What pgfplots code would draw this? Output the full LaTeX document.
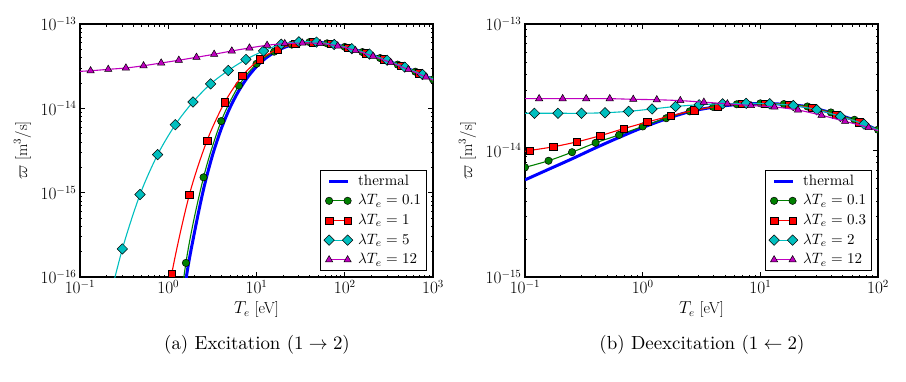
\documentclass[border=0pt]{standalone}
\usepackage{pgfplots}
\pgfplotsset{compat=1.18}

\definecolor{mgreen}{rgb}{0,0.5,0}
\definecolor{mred}{rgb}{1,0,0}
\definecolor{mcyan}{rgb}{0,0.75,0.75}
\definecolor{mmag}{rgb}{0.75,0,0.75}
\definecolor{mblue}{rgb}{0,0,1}

\newcommand{\tickfont}{\fontsize{16}{18}\selectfont}

\pgfplotsset{
  panel/.style={
    scale only axis, width=353pt, height=253pt,
    axis line style={line width=1.1pt},
    major tick length=5pt, minor tick length=2.5pt,
    every tick/.style={black, line width=0.7pt},
    tick label style={font=\tickfont},
    xlabel={$T_e$ [eV]},
    ylabel={$\varpi$ [m$^3$/s]},
    every axis x label/.style={at={(axis description cs:0.5,-0.13)}, anchor=center, font=\tickfont},
    every axis y label/.style={at={(axis description cs:-0.163,0.5)}, rotate=90, anchor=center, font=\tickfont},
    clip marker paths=true,
    legend cell align=left,
    legend style={at={(axis description cs:0.983,0.024)}, anchor=south east,
      draw=black, line width=1.1pt, inner xsep=3pt, inner ysep=2pt,
      nodes={inner sep=1.5pt, scale=1.5, transform shape=false}, row sep=2.5pt,
      /tikz/every odd column/.append style={column sep=3pt}},
    legend image code/.code={\draw[#1] plot coordinates {(0pt,0pt) (18.5pt,0pt)};},
  },
}

\begin{document}
\begin{tikzpicture}
\path[use as bounding box] (0,0) rectangle (906pt,382pt);

% (a) excitation
\begin{loglogaxis}[panel, at={(80pt,105pt)}, anchor=south west,
  xmin=0.1, xmax=1000, ymin=1e-16, ymax=1e-13,
  xtick={0.1,1,10,100,1000}, ytick={1e-16,1e-15,1e-14,1e-13}]
\addplot[mblue, line width=3pt, smooth] table {
x y
1.2589 1e-17
1.5849 9.1e-17
1.9953 3.5e-16
2.5119 1.1e-15
3.1623 2.75e-15
3.9811 5.7e-15
5.0119 1.02e-14
6.3096 1.62e-14
7.9433 2.34e-14
10 3.13e-14
12.589 3.9e-14
15.849 4.6e-14
19.953 5.2e-14
25.119 5.65e-14
31.623 5.98e-14
39.811 6.10e-14
50.119 6.06e-14
63.096 5.90e-14
79.433 5.65e-14
100 5.35e-14
125.89 5.00e-14
158.49 4.65e-14
199.53 4.30e-14
251.19 3.95e-14
316.23 3.62e-14
398.11 3.30e-14
501.19 3.00e-14
630.96 2.72e-14
794.33 2.45e-14
1000 2.20e-14
};
\addplot[mgreen, line width=1.1pt, smooth, mark=*, mark size=3.7pt,
  mark options={fill=mgreen, draw=black, line width=0.5pt}] table {
x y
1.0 3e-18
1.5849 1.47e-16
2.5119 1.52e-15
3.9811 7.06e-15
6.3096 1.86e-14
10 3.37e-14
15.849 4.70e-14
25.119 5.70e-14
39.811 6.10e-14
63.096 5.90e-14
100 5.35e-14
158.49 4.65e-14
251.19 3.95e-14
398.11 3.30e-14
630.96 2.72e-14
1000 2.20e-14
};
\addplot[mred, line width=1.1pt, smooth, mark=square*, mark size=3.7pt,
  mark options={fill=mred, draw=black, line width=0.5pt}] table {
x y
0.69183 6e-18
1.0965 1.10e-16
1.7378 9.5e-16
2.7542 4.16e-15
4.3652 1.18e-14
6.9183 2.43e-14
10.965 3.83e-14
17.378 5.00e-14
27.542 5.85e-14
43.652 6.10e-14
69.183 5.81e-14
109.65 5.21e-14
173.78 4.51e-14
275.42 3.82e-14
436.52 3.18e-14
691.83 2.61e-14
1096.5 2.12e-14
};
\addplot[mcyan, line width=1.1pt, smooth, mark=square*, mark size=3.7pt,
  mark options={fill=mcyan, draw=black, line width=0.5pt, rotate=45}] table {
x y
0.19055 3.2e-17
0.30200 2.15e-16
0.47863 9.5e-16
0.75858 2.83e-15
1.2023 6.4e-15
1.9055 1.19e-14
3.0200 1.95e-14
4.7863 2.81e-14
7.5858 3.80e-14
12.023 4.79e-14
19.055 5.75e-14
30.200 6.15e-14
47.863 6.10e-14
75.858 5.72e-14
120.23 5.10e-14
190.55 4.40e-14
302.00 3.72e-14
478.63 3.08e-14
758.58 2.52e-14
1202.3 2.05e-14
};
\addplot[mmag, line width=1.1pt, smooth, mark=triangle*, mark size=4.2pt,
  mark options={fill=mmag, draw=black, line width=0.5pt}] table {
x y
0.083176 2.72e-14
0.13183 2.79e-14
0.20893 2.90e-14
0.33113 3.01e-14
0.52481 3.20e-14
0.83176 3.45e-14
1.3183 3.72e-14
2.0893 4.03e-14
3.3113 4.38e-14
5.2481 4.79e-14
8.3176 5.20e-14
13.183 5.60e-14
20.893 5.85e-14
33.113 5.95e-14
52.481 5.88e-14
83.176 5.50e-14
131.83 4.85e-14
208.93 4.15e-14
331.13 3.50e-14
524.81 2.88e-14
831.76 2.35e-14
1318.3 1.90e-14
};
\legend{thermal, $\lambda T_e = 0.1$, $\lambda T_e = 1$, $\lambda T_e = 5$, $\lambda T_e = 12$}
\end{loglogaxis}

% (b) deexcitation
\begin{loglogaxis}[panel, at={(525pt,105pt)}, anchor=south west,
  xmin=0.1, xmax=100, ymin=1e-15, ymax=1e-13,
  xtick={0.1,1,10,100}, ytick={1e-15,1e-14,1e-13}]
\addplot[mblue, line width=3pt, smooth] table {
x y
0.1 5.86e-15
0.15849 7.1e-15
0.25119 8.6e-15
0.39811 1.05e-14
0.63096 1.27e-14
1.0 1.52e-14
1.5849 1.78e-14
2.5119 2.03e-14
3.9811 2.20e-14
6.3096 2.31e-14
10 2.35e-14
15.849 2.32e-14
25.119 2.22e-14
39.811 1.99e-14
63.096 1.74e-14
100 1.45e-14
};
\addplot[mgreen, line width=1.1pt, smooth, mark=*, mark size=3.7pt,
  mark options={fill=mgreen, draw=black, line width=0.5pt}] table {
x y
0.1 7.36e-15
0.15849 8.3e-15
0.25119 9.7e-15
0.39811 1.15e-14
0.63096 1.33e-14
1.0 1.55e-14
1.5849 1.80e-14
2.5119 2.04e-14
3.9811 2.21e-14
6.3096 2.32e-14
10 2.36e-14
15.849 2.33e-14
25.119 2.23e-14
39.811 2.00e-14
63.096 1.75e-14
100 1.46e-14
};
\addplot[mred, line width=1.1pt, smooth, mark=square*, mark size=3.7pt,
  mark options={fill=mred, draw=black, line width=0.5pt}] table {
x y
0.069183 9.3e-15
0.10965 1.00e-14
0.17378 1.07e-14
0.27542 1.17e-14
0.43652 1.31e-14
0.69183 1.49e-14
1.0965 1.68e-14
1.7378 1.88e-14
2.7542 2.08e-14
4.3652 2.23e-14
6.9183 2.33e-14
10.965 2.34e-14
17.378 2.30e-14
27.542 2.17e-14
43.652 1.92e-14
69.183 1.67e-14
109.65 1.40e-14
};
\addplot[mcyan, line width=1.1pt, smooth, mark=square*, mark size=3.7pt,
  mark options={fill=mcyan, draw=black, line width=0.5pt, rotate=45}] table {
x y
0.075858 1.97e-14
0.12023 1.97e-14
0.19055 1.97e-14
0.30200 1.97e-14
0.47863 1.99e-14
0.75858 2.04e-14
1.2023 2.13e-14
1.9055 2.23e-14
3.0200 2.30e-14
4.7863 2.34e-14
7.5858 2.36e-14
12.023 2.34e-14
19.055 2.27e-14
30.200 2.10e-14
47.863 1.86e-14
75.858 1.62e-14
120.23 1.34e-14
};
\addplot[mmag, line width=1.1pt, smooth, mark=triangle*, mark size=4.2pt,
  mark options={fill=mmag, draw=black, line width=0.5pt}] table {
x y
0.083176 2.57e-14
0.13183 2.57e-14
0.20893 2.57e-14
0.33113 2.57e-14
0.52481 2.57e-14
0.83176 2.54e-14
1.3183 2.52e-14
2.0893 2.48e-14
3.3113 2.41e-14
5.2481 2.34e-14
8.3176 2.27e-14
13.183 2.21e-14
20.893 2.09e-14
33.113 1.90e-14
52.481 1.70e-14
83.176 1.52e-14
131.83 1.30e-14
};
\legend{thermal, $\lambda T_e = 0.1$, $\lambda T_e = 0.3$, $\lambda T_e = 2$, $\lambda T_e = 12$}
\end{loglogaxis}

\node[scale=1.89] at (257pt,37pt) {(a) Excitation ($1 \rightarrow 2$)};
\node[scale=1.89] at (702pt,37pt) {(b) Deexcitation ($1 \leftarrow 2$)};
\end{tikzpicture}
\end{document}
